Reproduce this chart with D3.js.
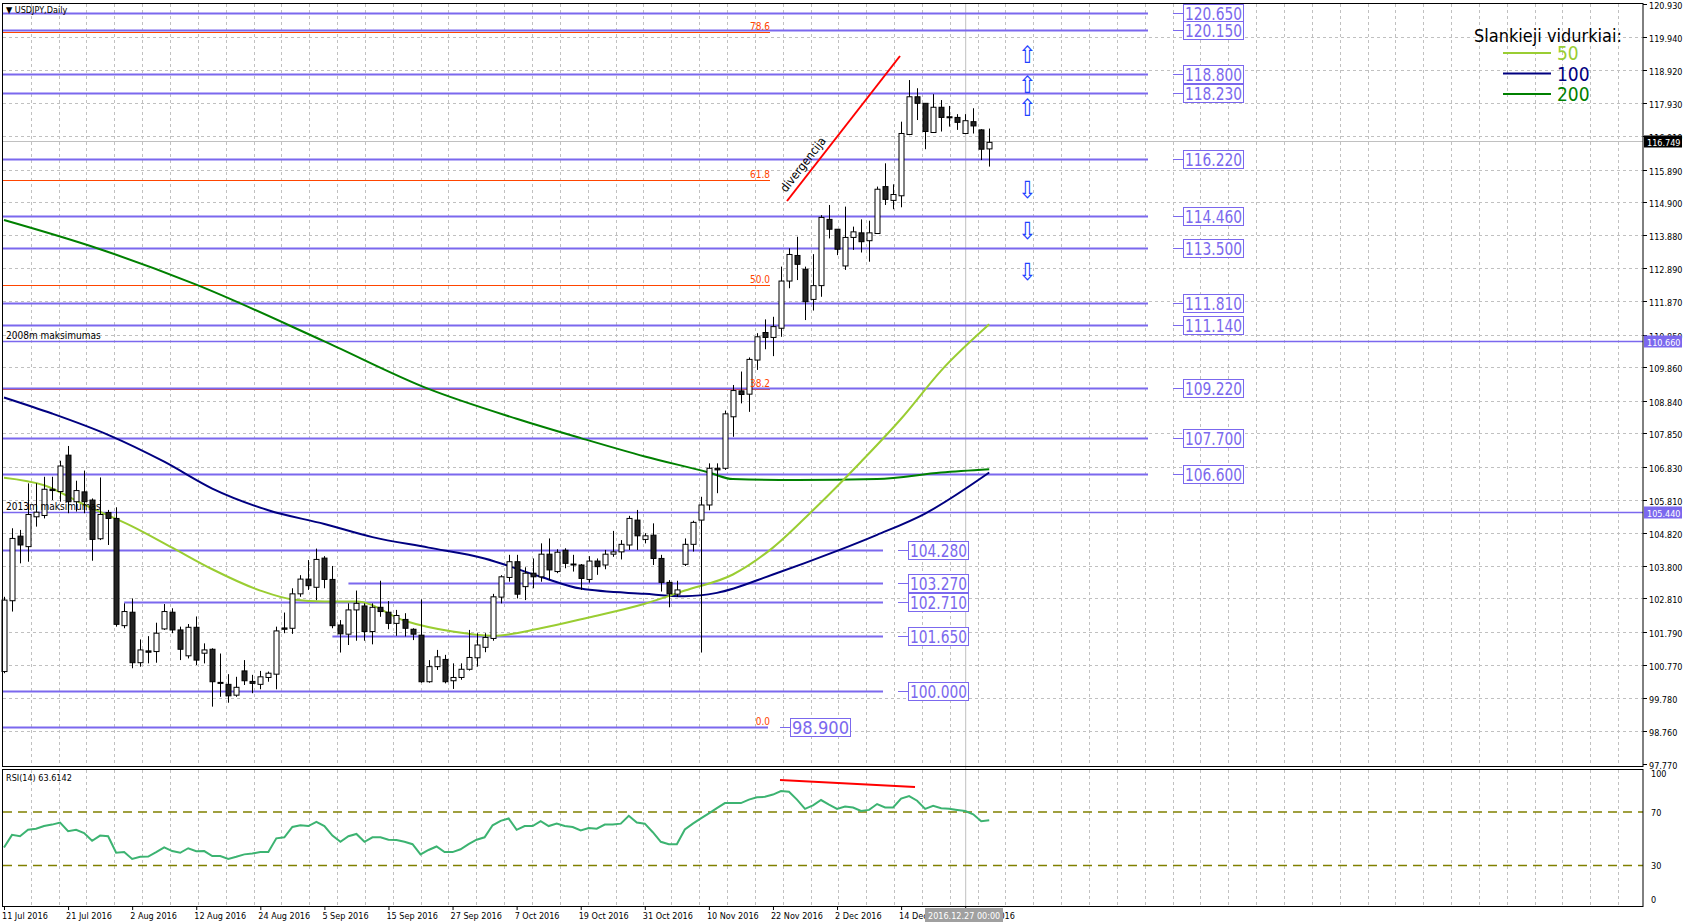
<!DOCTYPE html>
<html><head><meta charset="utf-8">
<script src="https://cdn.jsdelivr.net/npm/d3@7"></script>
<style>body{margin:0;background:#fff}svg{display:block}text{font-family:"DejaVu Sans Condensed","DejaVu Sans",sans-serif}</style>
</head><body><svg id="chart" width="1684" height="923"></svg>
<script>
// USDJPY daily candles, 11 Jul 2016 .. end Dec 2016
var opens  = [100.58,102.74,104.71,104.39,105.30,105.34,106.14,106.07,107.18,105.76,106.06,105.81,104.63,105.43,105.25,101.98,102.39,100.85,101.21,101.19,101.88,102.39,101.85,101.06,101.93,101.14,101.26,100.25,100.19,99.86,100.60,100.28,100.19,100.40,100.50,101.91,101.90,102.95,103.40,103.15,104.04,103.39,102.00,101.72,102.46,102.58,101.80,102.54,102.39,102.05,102.17,101.87,101.69,100.27,100.73,100.95,100.30,100.40,100.65,101.00,101.32,101.59,102.85,103.45,103.93,103.17,103.58,103.47,104.16,103.63,104.28,103.86,103.83,103.39,103.95,103.83,104.16,104.23,104.44,105.20,104.61,104.74,104.03,103.30,102.94,103.85,104.46,105.20,105.66,106.78,106.78,108.35,109.14,109.04,110.08,110.92,110.77,111.05,112.49,113.27,112.85,111.93,112.35,114.37,114.07,112.95,113.82,113.96,113.72,113.94,115.37,114.95,115.09,116.96,118.11,117.91,117.02,117.79,117.50,117.48,116.99,117.35,117.10,116.52];
var highs  = [102.86,104.95,104.90,106.32,106.32,106.52,106.52,107.01,107.46,106.40,106.71,105.86,106.50,105.51,105.59,102.66,102.81,101.56,101.66,102.07,102.64,102.51,101.95,102.03,102.26,101.44,101.29,101.13,100.50,100.42,100.93,100.48,100.60,100.58,101.95,102.38,103.12,103.52,103.98,104.33,104.10,103.80,102.15,102.66,103.05,102.66,102.66,103.35,102.73,102.46,102.36,101.90,102.78,100.93,101.24,101.09,100.83,100.83,101.85,101.75,101.75,102.95,103.52,104.14,104.14,103.76,104.03,104.49,104.64,104.31,104.34,104.14,103.86,104.10,104.03,104.29,104.87,104.59,105.33,105.51,104.80,105.10,104.14,103.37,103.35,104.64,105.18,105.91,106.93,106.93,108.54,109.32,109.73,110.16,110.90,111.32,111.40,112.93,113.49,113.84,112.93,113.31,114.50,114.81,114.07,114.76,114.15,114.37,114.33,115.37,116.08,115.44,117.35,118.62,118.37,117.91,118.19,118.01,117.83,117.58,117.58,117.76,117.12,117.14];
var lows   = [100.53,102.41,103.88,103.93,105.00,105.25,105.81,105.76,105.41,105.46,105.41,103.96,104.59,104.44,101.95,101.90,100.68,100.73,100.83,100.85,101.85,101.75,100.93,100.98,100.78,100.83,99.51,99.81,99.63,99.81,100.17,99.92,100.04,100.27,100.04,101.75,101.73,102.86,103.07,102.76,103.12,101.90,101.16,101.39,101.52,101.52,101.41,102.25,101.87,101.67,101.65,101.54,100.24,100.24,100.63,100.22,100.05,100.33,100.61,100.73,101.17,101.52,102.66,103.32,102.81,102.76,103.12,103.32,103.37,103.58,103.73,103.63,103.07,103.29,103.53,103.70,104.08,104.00,104.29,104.29,104.49,103.83,103.02,102.54,102.86,103.80,104.24,101.16,105.50,106.02,106.73,107.74,108.76,108.50,109.78,110.41,110.20,110.79,112.27,112.52,111.30,111.59,112.01,113.79,113.28,112.83,113.44,113.36,113.08,113.93,114.81,114.68,114.74,116.94,117.40,116.51,117.01,117.05,117.20,117.10,116.97,116.99,116.18,115.98];
var closes = [102.76,104.64,104.44,105.37,105.44,106.14,106.10,106.85,105.76,106.10,105.76,104.61,105.37,105.25,102.02,102.41,100.85,101.24,101.17,101.75,102.41,101.85,101.26,101.93,100.93,101.24,100.27,100.22,99.84,100.10,100.30,100.22,100.42,100.53,101.82,101.87,102.95,103.40,103.20,104.00,103.39,101.98,101.73,102.46,102.66,101.80,102.54,102.41,102.05,102.29,101.90,101.72,100.27,100.73,101.03,100.27,100.40,100.65,101.01,101.39,101.62,102.86,103.47,103.93,102.94,103.58,103.47,104.16,103.68,104.22,103.88,103.84,103.42,103.95,103.78,104.16,104.23,104.46,105.25,104.72,104.72,104.03,103.30,102.95,103.07,104.46,105.13,105.66,106.78,106.73,108.44,109.15,109.03,110.10,110.79,110.77,111.10,112.49,113.30,113.00,111.86,112.35,114.43,114.07,113.46,113.82,113.99,113.69,113.96,115.29,114.98,115.13,116.99,118.11,117.91,117.05,117.79,117.48,117.47,117.33,117.38,117.22,116.51,116.72];
var rsi = [43.4,52.9,51.9,56.7,57.5,59.5,60.6,62.1,55.7,56.7,54.2,48.5,52.4,51.9,39.5,40.0,34.9,36.5,36.7,40.0,43.6,40.8,39.5,42.9,40.6,40.8,37.0,37.0,34.9,36.5,38.3,39.0,40.0,40.0,50.3,51.1,58.8,60.1,59.5,62.6,59.5,52.4,47.7,51.9,53.6,47.7,51.1,51.1,49.3,49.0,47.7,45.9,38.3,41.6,44.2,40.0,40.0,42.1,45.9,49.3,51.1,60.1,63.4,65.2,56.7,59.5,59.5,63.1,59.5,61.3,59.5,58.8,56.2,58.0,57.5,60.6,60.6,61.3,67.2,62.1,61.3,54.9,47.7,45.9,45.9,57.0,61.3,65.2,69.0,72.9,76.7,76.7,76.7,79.3,81.1,81.4,83.1,85.7,85.2,79.3,72.4,75.0,79.0,75.5,72.4,74.2,73.4,70.8,71.6,76.0,73.4,73.4,80.1,81.9,78.5,72.4,74.7,72.9,72.4,71.6,70.8,68.3,63.1,63.9];
// moving averages read at selected bars: [bar, price]
var ma50  = [[0,106.49],[5,106.26],[10,105.67],[16,105.01],[21,104.36],[26,103.70],[32,103.05],[36,102.78],[40,102.72],[44,102.72],[50,102.13],[56,101.80],[61,101.67],[67,101.90],[73,102.23],[80,102.65],[85,103.05],[91,103.54],[96,104.36],[101,105.50],[107,106.98],[112,108.29],[117,109.76],[123,111.17]];
var ma100 = [[0,108.94],[6,108.45],[13,107.80],[20,106.98],[26,106.16],[33,105.50],[40,105.08],[46,104.68],[53,104.36],[60,104.03],[67,103.47],[72,103.11],[80,102.95],[85,102.88],[89,102.98],[96,103.54],[104,104.26],[109,104.75],[115,105.40],[123,106.65]];
var ma200 = [[0,114.35],[12,113.46],[24,112.38],[40,110.65],[53,109.20],[64,108.29],[72,107.70],[80,107.14],[88,106.65],[91,106.45],[99,106.42],[109,106.45],[117,106.65],[123,106.75]];
var longLevels = [120.65,120.15,118.80,118.23,116.22,114.46,113.50,111.81,111.14,109.22,107.70,106.60];
var shortLevels = [[104.28,0],[103.27,43],[102.71,15],[101.65,41],[100.00,0]];
var fullLevels = [[110.66,"2008m maksimumas"],[105.44,"2013m maksimumas"]];
var fibLevels = [[120.09,"78.6"],[115.56,"61.8"],[112.38,"50.0"],[109.20,"38.2"],[98.90,"0.0"]];
var priceTicks = [120.930,119.940,118.920,117.930,116.910,115.890,114.900,113.880,112.890,111.870,110.850,109.860,108.840,107.850,106.830,105.810,104.820,103.800,102.810,101.790,100.770,99.780,98.760,97.770];
var dateLabels = ["11 Jul 2016","21 Jul 2016","2 Aug 2016","12 Aug 2016","24 Aug 2016","5 Sep 2016","15 Sep 2016","27 Sep 2016","7 Oct 2016","19 Oct 2016","31 Oct 2016","10 Nov 2016","22 Nov 2016","2 Dec 2016","14 Dec 2016","26 Dec 2016"];
var rsiLevels = [70,30];
var upArrows = [119.42, 118.51, 117.79];
var downArrows = [115.30, 114.05, 112.81];

var svg = d3.select("#chart");
var x = d3.scaleLinear().domain([0,123]).range([4, 4+123*8.01]);
var y = d3.scaleLinear().domain([97.77,120.93]).range([763.7,4.3]);
var ry = d3.scaleLinear().domain([0,100]).range([905.5,772]);
var L = 3, R = 1643, blue = "#7b68ee", fib = "#ff4500";
function px(v){ return Math.round(y(v)) + 0.5; }

// grid
var gx = d3.range(30.7, R, 27.85);
[[4,766],[770,906]].forEach(function(p){
  svg.append("g").selectAll("line").data(gx).join("line")
    .attr("x1",function(d){return Math.round(d)+.5;}).attr("x2",function(d){return Math.round(d)+.5;})
    .attr("y1",p[0]).attr("y2",p[1]).attr("stroke","#c0c0c0").attr("stroke-dasharray","3,3");
});
svg.append("g").selectAll("line").data(priceTicks.slice(1,-1)).join("line")
  .attr("x1",L).attr("x2",R).attr("y1",px).attr("y2",px)
  .attr("stroke","#c0c0c0").attr("stroke-dasharray","3,3");

// current price & crosshair lines
svg.append("line").attr("x1",L).attr("x2",R).attr("y1",px(116.749)).attr("y2",px(116.749)).attr("stroke","#c0c0c0");
svg.append("line").attr("x1",x(120)+.5).attr("x2",x(120)+.5).attr("y1",4).attr("y2",906).attr("stroke","#c0c0c0");

// fib lines
fibLevels.forEach(function(f){
  if (f[1] != "0.0") svg.append("line").attr("x1",L).attr("x2",770).attr("y1",px(f[0])).attr("y2",px(f[0])).attr("stroke",fib);
});

// horizontal levels with label boxes
function levelLabel(v, lx){
  var g = svg.append("g");
  g.append("line").attr("x1",lx).attr("x2",lx+10).attr("y1",px(v)).attr("y2",px(v)).attr("stroke",blue);
  g.append("rect").attr("x",lx+10.5).attr("y",px(v)-9).attr("width",60).attr("height",18).attr("fill","#fff").attr("stroke",blue);
  g.append("text").attr("x",lx+40.5).attr("y",px(v)+6.5).attr("text-anchor","middle")
    .attr("font-family","Liberation Sans").attr("font-size",17).attr("textLength",57).attr("lengthAdjust","spacingAndGlyphs")
    .attr("fill",blue).text(v.toFixed(3));
}
longLevels.forEach(function(v){
  svg.append("line").attr("x1",L).attr("x2",1148).attr("y1",px(v)).attr("y2",px(v)).attr("stroke",blue).attr("stroke-width",2);
  levelLabel(v,1173);
});
shortLevels.forEach(function(s){
  svg.append("line").attr("x1",s[1]?x(s[1]):L).attr("x2",883).attr("y1",px(s[0])).attr("y2",px(s[0])).attr("stroke",blue).attr("stroke-width",2);
  levelLabel(s[0],898);
});
svg.append("line").attr("x1",L).attr("x2",768).attr("y1",px(98.9)).attr("y2",px(98.9)).attr("stroke",blue).attr("stroke-width",2);
levelLabel(98.9,780);
fullLevels.forEach(function(f){
  svg.append("line").attr("x1",L).attr("x2",R).attr("y1",px(f[0])).attr("y2",px(f[0])).attr("stroke",blue).attr("stroke-width",1.5);
});

// moving averages
var line = d3.line().x(function(d){return x(d[0]);}).y(function(d){return y(d[1]);}).curve(d3.curveMonotoneX);
[[ma200,"#008000"],[ma100,"#000080"],[ma50,"#9acd32"]].forEach(function(m){
  svg.append("path").attr("d",line(m[0])).attr("fill","none").attr("stroke",m[1]).attr("stroke-width",2);
});

// candles
var idx = d3.range(closes.length);
var cg = svg.append("g");
cg.selectAll("line").data(idx).join("line")
  .attr("x1",function(i){return Math.round(x(i))+.5;}).attr("x2",function(i){return Math.round(x(i))+.5;})
  .attr("y1",function(i){return y(highs[i]);}).attr("y2",function(i){return y(lows[i]);})
  .attr("stroke","#000");
cg.selectAll("rect").data(idx).join("rect")
  .attr("x",function(i){return Math.round(x(i))-2;}).attr("width",5)
  .attr("y",function(i){return y(Math.max(opens[i],closes[i]));})
  .attr("height",function(i){return Math.max(1,Math.abs(y(opens[i])-y(closes[i])));})
  .attr("fill",function(i){return closes[i]>=opens[i]?"#fff":"#222";}).attr("stroke","#000");

// fib labels and level notes on top
fibLevels.forEach(function(f){
  svg.append("text").attr("x",770).attr("y",px(f[0])-3).attr("text-anchor","end").attr("font-size",10).attr("fill",fib).text(f[1]);
});
fullLevels.forEach(function(f){
  svg.append("text").attr("x",6).attr("y",px(f[0])-3).attr("font-size",10).attr("fill","#000").text(f[1]);
});

// divergence line & text
svg.append("line").attr("x1",787).attr("y1",201).attr("x2",900).attr("y2",56).attr("stroke","#ff0000").attr("stroke-width",2);
svg.append("text").attr("transform","translate(786,193) rotate(-52)").attr("font-size",12).attr("fill","#000").text("divergencija");

// arrows
upArrows.forEach(function(v){ svg.append("text").attr("x",1027).attr("y",y(v)+9).attr("text-anchor","middle").attr("font-family","DejaVu Sans").attr("font-size",24).attr("fill","#2040ff").text("\u21e7"); });
downArrows.forEach(function(v){ svg.append("text").attr("x",1027).attr("y",y(v)+9).attr("text-anchor","middle").attr("font-family","DejaVu Sans").attr("font-size",24).attr("fill","#2040ff").text("\u21e9"); });

// legend
var lg = svg.append("g").attr("font-family","Liberation Sans");
lg.append("text").attr("x",1474).attr("y",42).attr("font-size",18).attr("fill","#000").text("Slankieji vidurkiai:");
[["50","#9acd32"],["100","#000080"],["200","#008000"]].forEach(function(d,k){
  var yy = 53 + k*20.5;
  lg.append("line").attr("x1",1503).attr("x2",1551).attr("y1",yy).attr("y2",yy).attr("stroke",d[1]).attr("stroke-width",2);
  lg.append("text").attr("x",1557).attr("y",yy+7).attr("font-size",19).attr("fill",d[1]).text(d[0]);
});

// RSI
svg.selectAll(".rl").data(rsiLevels).join("line")
  .attr("x1",L).attr("x2",R).attr("y1",function(d){return ry(d);}).attr("y2",function(d){return ry(d);})
  .attr("stroke","#808000").attr("stroke-width",1.5).attr("stroke-dasharray","9,6");
svg.append("path").attr("d",d3.line().x(function(d,i){return x(i);}).y(function(d){return ry(d);})(rsi))
  .attr("fill","none").attr("stroke","#3cb371").attr("stroke-width",2);
svg.append("line").attr("x1",780).attr("y1",780).attr("x2",915).attr("y2",787).attr("stroke","#ff0000").attr("stroke-width",2);
svg.append("text").attr("x",6).attr("y",781).attr("font-size",9).text("RSI(14) 63.6142");

// frames
svg.append("rect").attr("x",2.5).attr("y",3.5).attr("width",R-2.5).attr("height",763).attr("fill","none").attr("stroke","#000");
svg.append("rect").attr("x",2.5).attr("y",769.5).attr("width",R-2.5).attr("height",137).attr("fill","none").attr("stroke","#000");
svg.append("text").attr("x",6).attr("y",13).attr("font-size",9).text("\u25bc USDJPY,Daily");

// price axis
var ag = svg.append("g").attr("font-size",9);
priceTicks.forEach(function(v){
  ag.append("line").attr("x1",R).attr("x2",R+4).attr("y1",px(v)).attr("y2",px(v)).attr("stroke","#000");
  ag.append("text").attr("x",R+6).attr("y",px(v)+4).text(v.toFixed(3));
});
function axisBox(v,bg,fg){
  ag.append("rect").attr("x",R+1).attr("y",px(v)-6).attr("width",38).attr("height",12).attr("fill",bg);
  ag.append("text").attr("x",R+4).attr("y",px(v)+4).attr("fill",fg).text(v.toFixed(3));
}
axisBox(116.749,"#000","#fff"); axisBox(110.66,blue,"#fff"); axisBox(105.44,blue,"#fff");
[[100,777],[70,ry(70)+4],[30,ry(30)+4],[0,903]].forEach(function(d){
  ag.append("text").attr("x",R+8).attr("y",d[1]).text(d[0]);
});

// date axis
dateLabels.forEach(function(t,k){
  ag.append("line").attr("x1",x(k*8)+.5).attr("x2",x(k*8)+.5).attr("y1",906).attr("y2",910).attr("stroke","#000");
  ag.append("text").attr("x",x(k*8)-2).attr("y",919).text(t);
});
ag.append("rect").attr("x",925).attr("y",908).attr("width",78).attr("height",14).attr("fill","#a0a0a0");
ag.append("text").attr("x",928).attr("y",919).attr("fill","#fff").text("2016.12.27 00:00");
</script></body></html>
